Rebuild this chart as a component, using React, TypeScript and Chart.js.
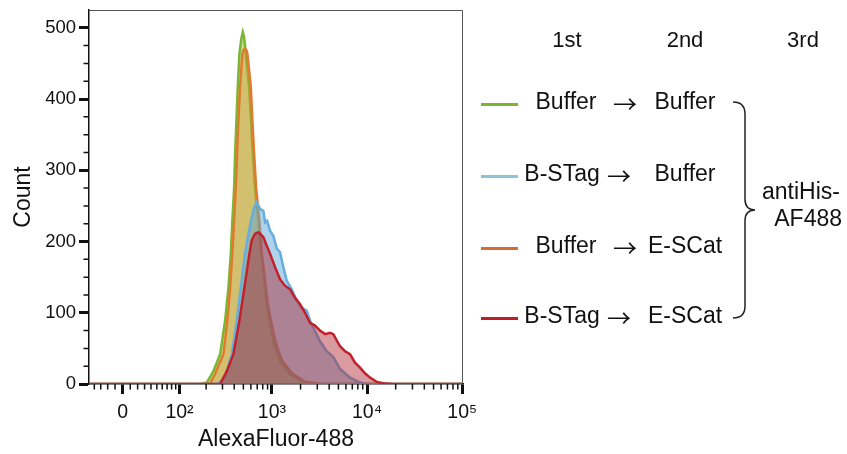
import React, { useEffect, useRef } from 'react';
import { Chart, registerables, LinearScale } from 'chart.js';

Chart.register(...registerables);

// ---------------- data (fluorescence intensity → count) ----------------
const greenX = [172, 203, 240, 283, 320, 347, 368, 382, 399, 409, 422, 436, 454, 476, 493, 509, 530, 575, 603, 628, 664, 692, 720, 756, 813, 882, 956, 1036, 1124, 1218, 1551, 2140, 3055];
const greenY = [0, 2, 18, 42, 89, 135, 183, 229, 276, 324, 370, 417, 464, 485, 494, 487, 464, 417, 370, 324, 276, 250, 229, 195, 160, 110, 85, 60, 45, 32, 14, 2, 0];

const orangeX = [195, 221, 250, 307, 338, 362, 382, 399, 416, 429, 443, 461, 488, 503, 521, 541, 551, 599, 622, 649, 681, 738, 782, 837, 910, 991, 1079, 1175, 1278, 1629, 2230, 3365];
const orangeY = [0, 1, 14, 42, 89, 135, 183, 229, 276, 324, 370, 417, 464, 469, 471, 468, 464, 417, 370, 324, 276, 229, 183, 150, 110, 85, 62, 46, 33, 15, 3, 0];

const blueX = [269, 320, 377, 426, 469, 521, 557, 603, 649, 692, 723, 750, 813, 847, 889, 956, 1036, 1124, 1218, 1319, 1432, 1617, 1825, 2059, 2324, 2517, 2726, 3206, 3770, 4423, 5200, 6626, 8435, 9990];
const blueY = [0, 10, 42, 89, 135, 183, 206, 229, 248, 255, 250, 246, 243, 227, 229, 215, 208, 190, 185, 164, 145, 133, 117, 107, 103, 89, 79, 60, 46, 38, 21, 9, 2, 0];

const redX = [283, 334, 392, 454, 512, 579, 613, 664, 720, 750, 813, 882, 956, 1079, 1218, 1374, 1551, 1751, 1976, 2230, 2517, 2841, 3206, 3619, 4083, 4423, 5200, 5870, 6626, 7474, 8435, 9520, 10746, 12631, 14823, 18295];
const redY = [0, 18, 42, 89, 135, 183, 202, 211, 213, 211, 206, 194, 183, 164, 147, 138, 133, 121, 112, 100, 86, 82, 75, 70, 72, 70, 53, 46, 42, 30, 23, 15, 9, 3, 1, 0];

// ---------------- axes ----------------
const X_MIN = -49;
const X_MAX = 102000;
const Y_MIN = 0;
const Y_MAX = 525;
const xMajorTicks = [0, 100, 1000, 10000, 100000];
const xTickLabels = ['0', '10²', '10³', '10⁴', '10⁵'];
const xMinorTicks = [-40, -30, -20, -10, 10, 20, 30, 40, 50, 60, 70, 80, 90,
  200, 300, 400, 500, 600, 700, 800, 900,
  2000, 3000, 4000, 5000, 6000, 7000, 8000, 9000,
  20000, 30000, 40000, 50000, 60000, 70000, 80000, 90000];
const yMajorTicks = [0, 100, 200, 300, 400, 500];
const yMinorTicks = [25, 50, 75, 125, 150, 175, 225, 250, 275, 325, 350, 375, 425, 450, 475];
const xTitle = 'AlexaFluor-488';
const yTitle = 'Count';

// ---------------- legend texts ----------------
const legendHeaders = ['1st', '2nd', '3rd'];
const legendFirst = ['Buffer', 'B-STag', 'Buffer', 'B-STag'];
const legendSecond = ['Buffer', 'Buffer', 'E-SCat', 'E-SCat'];
const legendArrow = '→';
const legendThird = ['antiHis-', 'AF488'];

// ---------------- styles ----------------
const FONT = '"Liberation Sans", Arial, Helvetica, sans-serif';
const ARROW_FONT = '"Noto Sans CJK JP", "DejaVu Sans", sans-serif';
const INK = '#111111';
const lineColors = ['#7ab833', '#64aee0', '#e07a30', '#c4202c']; // legend order
const fillColors = ['rgba(150,185,40,0.5)', 'rgba(95,168,215,0.5)', 'rgba(225,140,40,0.35)', 'rgba(170,30,45,0.45)'];
const swatchColors = ['#7ab432', '#8cc3d7', '#d26e32', '#be1e28'];

// ---------------- biexponential scale ----------------
const W = 27;
const tf = (v: number) => Math.asinh(v / (2 * W)) / Math.LN10;

class BiexScale extends LinearScale {
  static id = 'biex';
  buildTicks() {
    const s: any = this;
    return xMajorTicks.filter((v) => v >= s.min && v <= s.max).map((v) => ({ value: v }));
  }
  getPixelForValue(value: any) {
    const s: any = this;
    if (value === null || value === undefined || isNaN(value)) return NaN;
    const a = tf(s.min);
    const b = tf(s.max);
    return s.getPixelForDecimal((tf(value) - a) / (b - a));
  }
  getValueForPixel(pixel: number) {
    const s: any = this;
    const a = tf(s.min);
    const b = tf(s.max);
    const t = a + s.getDecimalForPixel(pixel) * (b - a);
    return 2 * W * Math.sinh(t * Math.LN10);
  }
}
Chart.register(BiexScale as any);

const toPoints = (xs: number[], ys: number[]) => [
  { x: X_MIN, y: 0 },
  ...xs.map((x, i) => ({ x, y: ys[i] })),
  { x: X_MAX, y: 0 },
];

const decorPlugin = {
  id: 'decor',
  afterDraw(chart: any) {
    const { ctx, chartArea: ca, scales } = chart;
    const xs = scales.x;
    const ys = scales.y;
    ctx.save();
    // frame (top, right)
    ctx.strokeStyle = '#555';
    ctx.lineWidth = 1;
    ctx.beginPath();
    ctx.moveTo(ca.left, ca.top + 0.5);
    ctx.lineTo(ca.right - 0.5, ca.top + 0.5);
    ctx.lineTo(ca.right - 0.5, ca.bottom);
    ctx.stroke();
    // minor ticks
    ctx.strokeStyle = INK;
    ctx.lineWidth = 1.5;
    ctx.beginPath();
    xMinorTicks.forEach((v) => {
      const px = xs.getPixelForValue(v);
      if (px >= ca.left && px <= ca.right) {
        ctx.moveTo(px, ca.bottom);
        ctx.lineTo(px, ca.bottom + 5.5);
      }
    });
    yMinorTicks.forEach((v) => {
      const py = ys.getPixelForValue(v);
      ctx.moveTo(ca.left, py);
      ctx.lineTo(ca.left - 5.5, py);
    });
    ctx.stroke();

    // custom legend
    const W0 = chart.width;
    ctx.fillStyle = INK;
    ctx.textBaseline = 'middle';
    ctx.textAlign = 'center';
    ctx.font = `22px ${FONT}`;
    const headerX = [567, 685, 803];
    legendHeaders.forEach((t, i) => ctx.fillText(t, headerX[i], 41));
    const rowY = [103, 175, 247, 317];
    legendFirst.forEach((t, i) => {
      const y = rowY[i];
      ctx.strokeStyle = swatchColors[i];
      ctx.lineWidth = 3;
      ctx.beginPath();
      ctx.moveTo(481, y + 1.5);
      ctx.lineTo(518, y + 1.5);
      ctx.stroke();
      ctx.fillStyle = INK;
      ctx.textAlign = 'center';
      ctx.font = `23px ${FONT}`;
      ctx.fillText(t, t === 'Buffer' ? 566 : 562, y);
      ctx.fillText(legendSecond[i], 685, y);
      ctx.font = `24px ${ARROW_FONT}`;
      ctx.fillText(legendArrow, t === 'Buffer' ? 625 : 619, y + 1);
    });
    // brace
    ctx.strokeStyle = '#222';
    ctx.lineWidth = 1.5;
    ctx.beginPath();
    ctx.moveTo(733, 102);
    ctx.quadraticCurveTo(745, 102, 745, 114);
    ctx.lineTo(745, 199);
    ctx.quadraticCurveTo(745, 210, 755, 210);
    ctx.quadraticCurveTo(745, 210, 745, 221);
    ctx.lineTo(745, 306);
    ctx.quadraticCurveTo(745, 318, 733, 318);
    ctx.stroke();
    ctx.font = `23px ${FONT}`;
    ctx.textAlign = 'right';
    ctx.fillText(legendThird[0], W0 - 7, 193);
    ctx.fillText(legendThird[1], W0 - 5, 220);
    ctx.restore();
  },
};

export default function App() {
  const ref = useRef<HTMLCanvasElement>(null);
  useEffect(() => {
    document.body.style.margin = '0';
    const series = [
      { x: greenX, y: greenY },
      { x: blueX, y: blueY },
      { x: orangeX, y: orangeY },
      { x: redX, y: redY },
    ];
    const names = legendFirst.map((f, i) => `${f} ${legendArrow} ${legendSecond[i]}`);
    // draw order: red on top, then blue, orange, green at the bottom
    const drawOrder = [3, 1, 2, 0];
    const datasets = drawOrder.map((i) => ({
      label: names[i],
      data: toPoints(series[i].x, series[i].y),
      borderColor: lineColors[i],
      backgroundColor: fillColors[i],
      borderWidth: 2.5,
      pointRadius: 0,
      tension: 0,
      fill: 'origin',
    }));
    const chart = new Chart(ref.current as HTMLCanvasElement, {
      type: 'line',
      data: { datasets } as any,
      options: {
        animation: false,
        responsive: false,
        devicePixelRatio: 1,
        layout: { padding: { top: 10, right: 384, left: 0, bottom: 0 } },
        plugins: { legend: { display: false }, tooltip: { enabled: false } },
        scales: {
          x: {
            type: 'biex' as any,
            min: X_MIN,
            max: X_MAX,
            afterFit: (s: any) => {
              s.height = 70;
              s.paddingLeft = 0;
              s.paddingRight = 0;
            },
            border: { display: true, color: INK, width: 1.5 },
            grid: { display: true, drawOnChartArea: false, drawTicks: true, tickLength: 10, tickWidth: 3, tickColor: INK },
            ticks: {
              autoSkip: false,
              maxRotation: 0,
              padding: 7,
              color: INK,
              font: { size: 19.5, family: FONT },
              callback: (v: any) => {
                const i = xMajorTicks.indexOf(Number(v));
                return i >= 0 ? xTickLabels[i] : '';
              },
            },
            title: { display: true, text: xTitle, color: INK, font: { size: 23, family: FONT }, padding: { top: 0, bottom: 1 } },
          },
          y: {
            type: 'linear',
            min: Y_MIN,
            max: Y_MAX,
            afterBuildTicks: (s: any) => {
              s.ticks = yMajorTicks.map((v) => ({ value: v }));
            },
            afterFit: (s: any) => {
              s.width = 89;
              s.paddingTop = 0;
              s.paddingBottom = 0;
            },
            border: { display: true, color: INK, width: 1.5 },
            grid: { display: true, drawOnChartArea: false, drawTicks: true, tickLength: 10, tickWidth: 3, tickColor: INK },
            ticks: { padding: 3, color: INK, font: { size: 18.5, family: FONT } },
            title: { display: true, text: yTitle, color: INK, font: { size: 23, family: FONT }, padding: { top: 10, bottom: 0 } },
          },
        },
      },
      plugins: [decorPlugin],
    } as any);
    return () => chart.destroy();
  }, []);
  return (
    <div style={{ width: 847, height: 454 }}>
      <canvas ref={ref} width={847} height={454} style={{ display: 'block' }} />
    </div>
  );
}
